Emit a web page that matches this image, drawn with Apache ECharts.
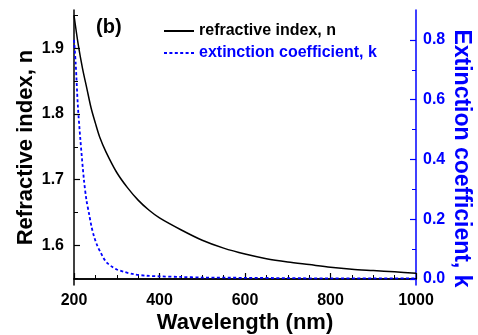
<!DOCTYPE html>
<html>
<head>
    <meta charset="utf-8">
    <title></title>
    <script src="https://cdn.jsdelivr.net/npm/echarts@6/dist/echarts.min.js"></script>
    <style type="text/css">
        html,
        body {
            margin: 0;
            padding: 0;
            width: 100%;
            height: 100%;
            background: #fff;
        }
    </style>
</head>
<body>
    <div id="main" style="width: 478px; height: 335px;"></div>

    <script type="text/javascript">
        // refractive index n
        var nWavelength = [200, 210, 220, 230, 240, 250, 260, 275, 300, 325, 350, 375, 400, 450, 500, 550, 600, 650, 700, 750, 800, 850, 900, 950, 1000];
        var nValues = [1.950, 1.905, 1.869, 1.839, 1.809, 1.786, 1.765, 1.742, 1.711, 1.688, 1.669, 1.654, 1.642, 1.624, 1.608, 1.596, 1.587, 1.580, 1.575, 1.571, 1.567, 1.564, 1.562, 1.560, 1.558];

        // extinction coefficient k
        var kWavelength = [200, 204, 209, 215, 223, 229, 235, 241, 247, 255, 263, 270, 278, 290, 300, 317, 340, 370, 400, 450, 500, 600, 700, 800, 900, 1000];
        var kValues = [0.800, 0.720, 0.580, 0.465, 0.335, 0.265, 0.220, 0.175, 0.142, 0.110, 0.087, 0.068, 0.053, 0.040, 0.032, 0.024, 0.016, 0.011, 0.009, 0.007, 0.005, 0.004, 0.003, 0.002, 0.002, 0.002];

        var nMajorTicks = [1.6, 1.7, 1.8, 1.9];
        var nMinorTicks = [1.55, 1.65, 1.75, 1.85, 1.95];
        var kMajorTicks = [0.0, 0.2, 0.4, 0.6, 0.8];
        var kMinorTicks = [0.1, 0.3, 0.5, 0.7];

        var blue = '#0000ff';
        var font = "'Liberation Sans', Arial, sans-serif";

        function pairs(xs, ys) {
            return xs.map(function (x, i) { return [x, ys[i]]; });
        }

        var myChart = echarts.init(document.getElementById('main'));

        var option = {
            animation: false,
            grid: { left: 74, right: 62, top: 10, bottom: 50, outerBoundsMode: 'none', containLabel: false },
            legend: {
                orient: 'vertical',
                left: 163,
                top: 23,
                padding: 0,
                itemWidth: 30,
                itemHeight: 14,
                itemGap: 6,
                itemStyle: { color: 'transparent', borderWidth: 0, opacity: 0 },
                textStyle: { fontFamily: font, fontWeight: 'bold', fontSize: 16 },
                data: [
                    { name: 'refractive index, n', textStyle: { color: '#000' } },
                    { name: 'extinction coefficient, k', textStyle: { color: blue } }
                ]
            },
            graphic: [{
                type: 'text',
                left: 96,
                top: 17,
                style: { text: '(b)', fontFamily: font, fontWeight: 'bold', fontSize: 20, fill: '#000' }
            }],
            xAxis: [{
                type: 'value',
                min: 200,
                max: 1000,
                interval: 200,
                name: 'Wavelength (nm)',
                nameLocation: 'middle',
                nameGap: 27,
                nameMoveOverlap: false,
                nameTextStyle: { fontFamily: font, fontWeight: 'bold', fontSize: 22, color: '#000' },
                axisLine: { lineStyle: { color: '#000', width: 1.5 } },
                axisTick: { inside: true, length: 6, lineStyle: { color: '#000', width: 1.2 } },
                minorTick: { show: true, splitNumber: 4, length: 4, lineStyle: { color: '#000', width: 1 } },
                axisLabel: {
                    margin: 8, fontFamily: font, fontWeight: 'bold', fontSize: 16, color: '#000',
                    formatter: function (v) { return String(v); }
                },
                splitLine: { show: false }
            }, {
                type: 'value',
                position: 'top',
                min: 200,
                max: 1000,
                axisLine: { show: true, lineStyle: { color: '#000', width: 1.5 } },
                axisTick: { show: false },
                axisLabel: { show: false },
                splitLine: { show: false }
            }],
            yAxis: [{
                type: 'value',
                position: 'left',
                min: 1.54,
                max: 1.958,
                name: 'Refractive index, n',
                nameLocation: 'middle',
                nameGap: 37,
                nameMoveOverlap: false,
                nameTextStyle: { fontFamily: font, fontWeight: 'bold', fontSize: 22, color: '#000' },
                axisLine: { show: true, lineStyle: { color: '#000', width: 1.5 } },
                axisTick: { inside: true, length: 6, customValues: nMajorTicks, lineStyle: { color: '#000', width: 1.2 } },
                axisLabel: {
                    margin: 10, customValues: nMajorTicks, fontFamily: font, fontWeight: 'bold', fontSize: 16, color: '#000',
                    formatter: function (v) { return v.toFixed(1); }
                },
                splitLine: { show: false }
            }, {
                type: 'value',
                position: 'right',
                min: -0.02,
                max: 0.9,
                name: 'Extinction coefficient, k',
                nameLocation: 'middle',
                nameRotate: -90,
                nameGap: 34,
                nameMoveOverlap: false,
                nameTextStyle: { fontFamily: font, fontWeight: 'bold', fontSize: 23, color: blue, padding: [0, 0, 0, 22] },
                axisLine: { show: true, lineStyle: { color: blue, width: 1.5 } },
                axisTick: { inside: true, length: 6, customValues: kMajorTicks, lineStyle: { color: blue, width: 1.2 } },
                axisLabel: {
                    margin: 7, customValues: kMajorTicks, fontFamily: font, fontWeight: 'bold', fontSize: 16, color: blue,
                    formatter: function (v) { return v.toFixed(1); }
                },
                splitLine: { show: false }
            }, {
                // minor ticks, left
                type: 'value',
                position: 'left',
                min: 1.54,
                max: 1.958,
                axisLine: { show: false },
                axisTick: { inside: true, length: 4, customValues: nMinorTicks, lineStyle: { color: '#000', width: 1 } },
                axisLabel: { show: false },
                splitLine: { show: false }
            }, {
                // minor ticks, right
                type: 'value',
                position: 'right',
                min: -0.02,
                max: 0.9,
                axisLine: { show: false },
                axisTick: { inside: true, length: 4, customValues: kMinorTicks, lineStyle: { color: blue, width: 1 } },
                axisLabel: { show: false },
                splitLine: { show: false }
            }],
            series: [{
                name: 'refractive index, n',
                type: 'line',
                xAxisIndex: 0,
                yAxisIndex: 0,
                data: pairs(nWavelength, nValues),
                showSymbol: false,
                symbol: 'none',
                smooth: 0.3,
                lineStyle: { color: '#000', width: 1.5 },
                itemStyle: { color: '#000' },
                z: 3
            }, {
                name: 'extinction coefficient, k',
                type: 'line',
                xAxisIndex: 0,
                yAxisIndex: 1,
                data: pairs(kWavelength, kValues),
                showSymbol: false,
                symbol: 'none',
                smooth: 0.3,
                lineStyle: { color: blue, width: 1.8, type: [3, 2.4] },
                itemStyle: { color: blue },
                z: 2
            }]
        };
        myChart.setOption(option);
    </script>
</body>
</html>
